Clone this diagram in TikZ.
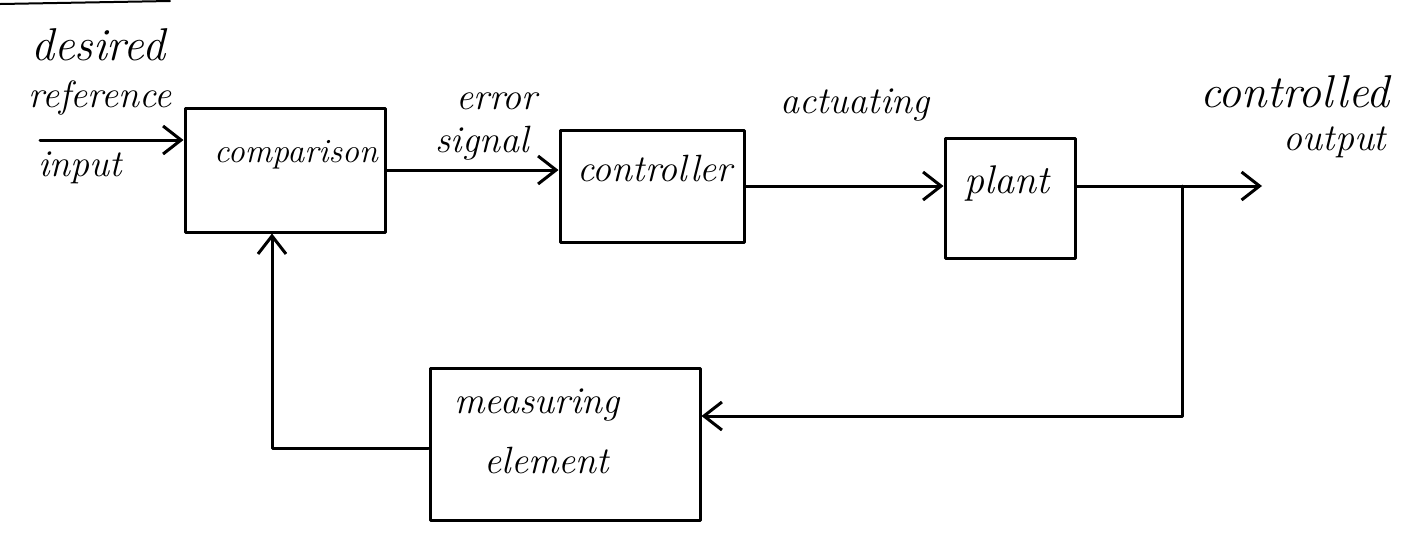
\documentclass[tikz,border=0pt]{standalone}
\usetikzlibrary{arrows.meta}
\begin{document}
\begin{tikzpicture}[x=0.5pt,y=-0.5pt,
  line width=1.5pt, line cap=round, line join=round,
  block/.style={draw, line width=1.5pt, inner sep=0pt},
  txt/.style={font=\itshape\fontsize{19}{21}\selectfont, inner sep=0pt},
  big/.style={font=\itshape\fontsize{23}{25}\selectfont},
  arr/.style={-{Straight Barb[length=9pt,width=14pt,line width=1.5pt]}}]
\useasboundingbox (0,0) rectangle (1420,537);

% stroke along the top-left edge
\draw[line width=1pt] (0,4) -- (170,1);

% blocks
\node[block, minimum width=100pt, minimum height=62pt] (cmp)  at (285,170) {};
\node[block, minimum width=92pt,  minimum height=56pt] (ctrl) at (652,186) {};
\node[block, minimum width=65pt,  minimum height=60pt] (plant) at (1010,198) {};
\node[block, minimum width=135pt, minimum height=76pt] (meas) at (565,444) {};

% block texts
\node[txt, font=\itshape\fontsize{17}{19}\selectfont] (tcmp) at (296,155) {comparison};
\node[txt] (tctrl)  at (655,168) {controller};
\node[txt, font=\itshape\fontsize{20}{22}\selectfont] (tplant) at (1007,183) {plant};
\node[txt] (tmeas1) at (537,405) {measuring};
\node[txt] (tmeas2) at (547,460) {element};

% signal labels
\node[txt, big] (ldes)  at (98,45)  {desired};
\node[txt] (lref)  at (100,98) {reference};
\node[txt] (linp)  at (80,168)  {input};
\node[txt] (lerr1) at (497,101) {error};
\node[txt] (lerr2) at (482,143) {signal};
\node[txt] (lact)  at (855,105) {actuating};
\node[txt, big] (lout1) at (1295,92) {controlled};
\node[txt] (lout2) at (1335,142) {output};

% forward path
\coordinate (src) at (40,140);
\draw[arr] (src) -- (src -| cmp.west);
\draw[arr] (cmp.east) -- (cmp.east -| ctrl.west);
\draw[arr] (ctrl.east) -- (ctrl.east -| plant.west);
\coordinate (out) at (1262,186);
\coordinate (br)  at (1182,186);
\draw[arr] (plant.east |- out) -- (out);

% feedback path
\coordinate (bc) at (1182,416);
\draw[arr] (br) -- (bc) -- (bc -| meas.east);
\coordinate (fb) at (272,448);
\draw[arr] (meas.west |- fb) -- (fb) -- (fb |- cmp.south);
\end{tikzpicture}
\end{document}
